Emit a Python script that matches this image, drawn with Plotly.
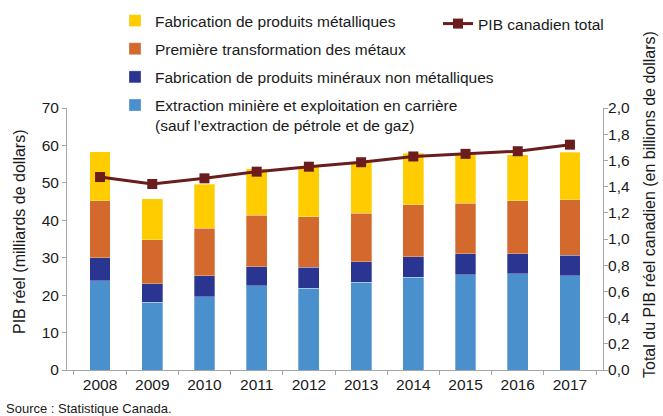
import plotly.graph_objects as go

# Données (milliards de dollars / billions de dollars)
annees = ['2008', '2009', '2010', '2011', '2012', '2013', '2014', '2015', '2016', '2017']
extraction = [23.8, 18.1, 19.6, 22.5, 21.9, 23.4, 24.8, 25.4, 25.7, 25.2]
mineraux = [6.2, 5.0, 5.6, 5.1, 5.5, 5.5, 5.4, 5.6, 5.3, 5.5]
premiere = [15.2, 11.7, 12.7, 13.8, 13.5, 13.0, 13.9, 13.5, 14.2, 14.8]
fabrication = [13.1, 10.9, 11.7, 12.4, 13.5, 13.6, 13.8, 13.0, 12.3, 12.7]
pib_total = [1.473, 1.42, 1.463, 1.514, 1.552, 1.586, 1.63, 1.65, 1.67, 1.72]

noms = [
    'Extraction minière et exploitation en carrière<br>(sauf l’extraction de pétrole et de gaz)',
    'Fabrication de produits minéraux non métalliques',
    'Première transformation des métaux',
    'Fabrication de produits métalliques',
]
couleurs = ['#4a90cd', '#2a3591', '#d3692c', '#ffcc00']
series = [extraction, mineraux, premiere, fabrication]

police = 'Liberation Sans, Arial, sans-serif'
gris = '#a6a6a6'

# zone de tracé en pixels : x 67..603, y 108..370
L, R, T, B = 67, 60, 108, 46
W, H = 663, 416
pw, ph = W - L - R, H - T - B


def px_x(x):
    return (x - L) / pw


def px_y(y):
    return (H - B - y) / ph


fig = go.Figure()

for i, (nom, couleur, vals) in enumerate(zip(noms, couleurs, series)):
    fig.add_trace(go.Bar(
        x=annees, y=vals, name=nom,
        marker=dict(color=couleur, line=dict(color='rgba(255,255,255,0.6)', width=0.5)),
        legendgroup=nom, legendrank=4 - i, legend='legend',
    ))

fig.add_trace(go.Scatter(
    x=annees, y=pib_total, name='PIB canadien total',
    yaxis='y2', mode='lines+markers',
    line=dict(color='#6b1d1d', width=3),
    marker=dict(symbol='square', size=10, color='#6b1d1d'),
    legend='legend2',
))

fig.update_layout(
    width=W, height=H,
    barmode='stack', bargap=0.6,
    separators=', ',
    font=dict(family=police, size=15, color='#1a1a1a'),
    paper_bgcolor='white', plot_bgcolor='white',
    margin=dict(l=L, r=R, t=T, b=B, autoexpand=False),
    xaxis=dict(
        type='category',
        showline=True, linecolor=gris, linewidth=1,
        ticks='outside', tickson='boundaries', ticklen=4, tickcolor=gris,
        tickfont=dict(size=15.5),
    ),
    yaxis=dict(
        range=[0, 70], dtick=10, showgrid=False, zeroline=False,
        showline=True, linecolor=gris, ticks='outside', ticklen=4, tickcolor=gris,
        tickfont=dict(size=15.5),
    ),
    yaxis2=dict(
        range=[0, 2.0], dtick=0.2, tickformat='.1f', overlaying='y', side='right',
        showgrid=False, zeroline=False,
        showline=True, linecolor=gris, ticks='outside', ticklen=4, tickcolor=gris,
        tickfont=dict(size=15.5), ticklabelstandoff=-3,
    ),
    legend=dict(
        x=px_x(115), y=px_y(4),
        xanchor='left', yanchor='top',
        traceorder='grouped', tracegroupgap=5, valign='top',
        font=dict(size=15.5),
        bgcolor='rgba(0,0,0,0)',
    ),
    legend2=dict(
        x=px_x(438), y=px_y(7),
        xanchor='left', yanchor='top',
        font=dict(size=15.5),
        bgcolor='rgba(0,0,0,0)',
    ),
    annotations=[
        dict(
            text='PIB réel (milliards de dollars)', xref='paper', yref='paper',
            x=px_x(19), y=px_y(232), xanchor='center', yanchor='middle',
            textangle=-90, showarrow=False, font=dict(size=16),
        ),
        dict(
            text='Total du PIB réel canadien (en billions de dollars)', xref='paper', yref='paper',
            x=px_x(649), y=px_y(205), xanchor='center', yanchor='middle',
            textangle=-90, showarrow=False, font=dict(size=16),
        ),
        dict(
            text='Source : Statistique Canada.', xref='paper', yref='paper',
            x=px_x(4), y=px_y(408), xanchor='left', yanchor='middle',
            showarrow=False, font=dict(size=13),
        ),
    ],
)

# la page n'a pas de marge autour du graphique, et pas de barre d'outils
fig.write_html('out.html', config={'displayModeBar': False},
               post_script="document.body.style.margin='0';")
